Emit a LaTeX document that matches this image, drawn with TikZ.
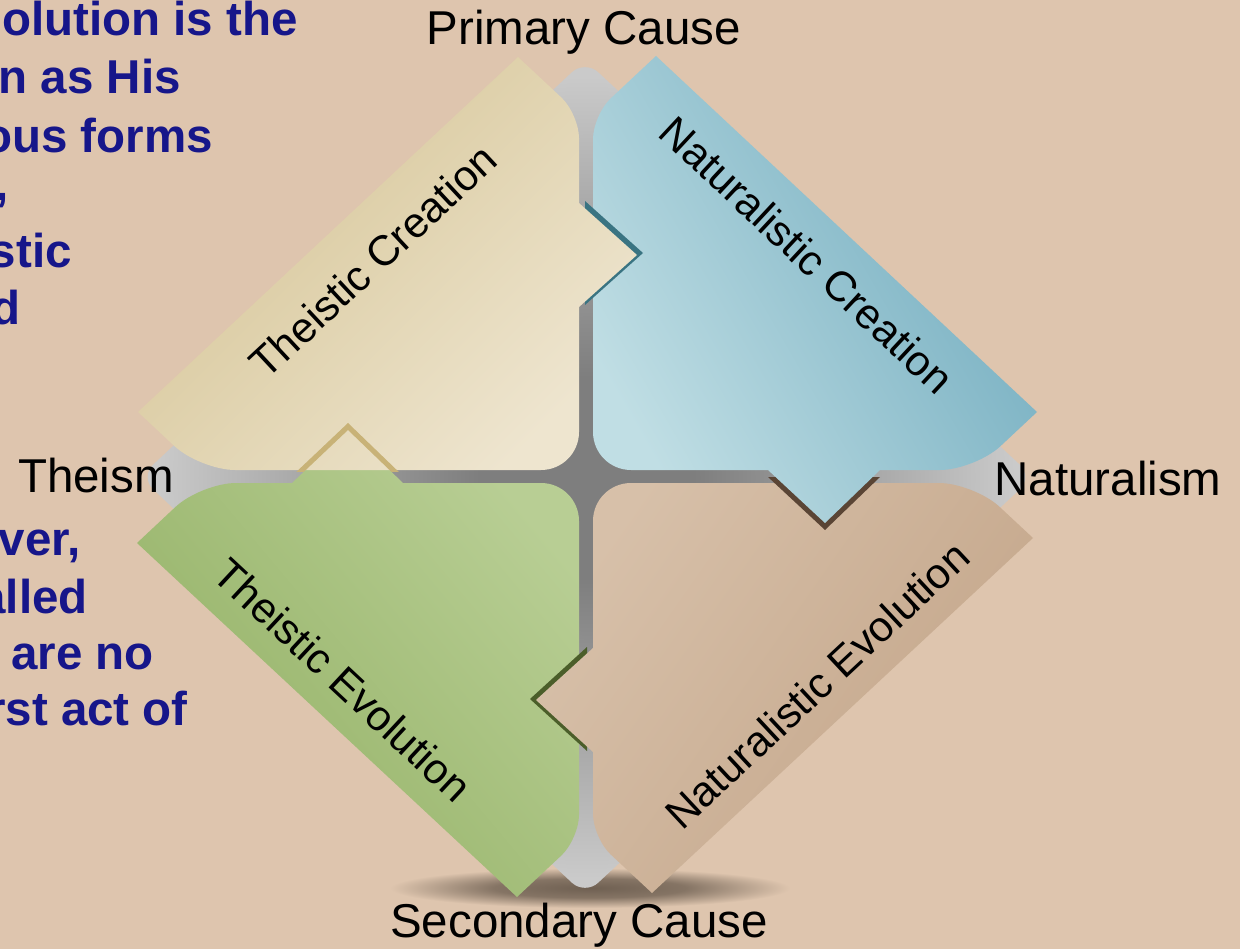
\documentclass[tikz,border=0pt]{standalone}
\usepackage{fontspec}
\setmainfont{Liberation Sans}
\usetikzlibrary{calc}
\definecolor{bgc}{HTML}{DEC5AE}
\definecolor{gdA}{HTML}{7E7E7E}
\definecolor{gdB}{HTML}{CACACA}
\definecolor{shc}{HTML}{6F6052}
\definecolor{tanA}{HTML}{D5C495}
\definecolor{tanB}{HTML}{EEE5CF}
\definecolor{bluA}{HTML}{C0DEE4}
\definecolor{bluB}{HTML}{70ABBE}
\definecolor{grnA}{HTML}{93B165}
\definecolor{grnB}{HTML}{B8CE94}
\definecolor{brnA}{HTML}{D7C0A9}
\definecolor{brnB}{HTML}{C3A589}
\definecolor{tealS}{HTML}{3A7482}
\definecolor{brnS}{HTML}{5A4535}
\definecolor{grnS}{HTML}{4B5E2A}
\definecolor{tanS}{HTML}{C8B277}
\definecolor{txtblue}{HTML}{16168A}
\pgfdeclareradialshading{graydiam}{\pgfpoint{0bp}{0bp}}{color(0bp)=(gdA); color(6bp)=(gdA); color(24bp)=(gdB); color(50bp)=(gdB)}
\pgfdeclareradialshading{floorshadow}{\pgfpoint{0bp}{0bp}}{color(0bp)=(shc); color(12bp)=(shc!80!bgc); color(25bp)=(bgc); color(50bp)=(bgc)}
\tikzset{
  rc/.style args={#1/#2/#3/#4/#5}{insert path={-- ($(#2)!#4!(#1)$) .. controls ($(#2)!#5!(#1)$) and ($(#2)!#5!(#3)$) .. ($(#2)!#4!(#3)$)}},
  tanfill/.style={top color=tanA, bottom color=tanB, shading angle=45},
  blufill/.style={top color=bluA, bottom color=bluB, shading angle=120},
  grnfill/.style={top color=grnA, bottom color=grnB, shading angle=130},
  brnfill/.style={top color=brnA, bottom color=brnB, shading angle=55},
  lbl/.style={font=\fontsize{47.5}{57}\selectfont, inner sep=0pt, text=black},
  qlbl/.style={font=\fontsize{42.5}{50}\selectfont, inner sep=0pt, text=black},
  btxt/.style={font=\fontsize{47.5}{57}\selectfont\bfseries, inner sep=0pt, text=txtblue, anchor=base east}
}
\begin{document}
\begin{tikzpicture}[x=1pt,y=-1pt]
\useasboundingbox (0,0) rectangle (1240,949);
\fill[bgc] (0,0) rectangle (1240,949);

% floor shadow
\shade[shading=floorshadow] (590,888) ellipse [x radius=200, y radius=20];

% gray diamond behind
\shade[shading=graydiam, rounded corners=18pt] (585,60) -- (1033,477) -- (585,895) -- (140,477) -- cycle;

% coordinates
\coordinate (T1) at (518,57);  \coordinate (T2) at (579,114); \coordinate (T3) at (579,203);
\coordinate (T4) at (637,255); \coordinate (T5) at (579,307); \coordinate (T6) at (579,470);
\coordinate (T7) at (200,470); \coordinate (T8) at (138,412);

\coordinate (B1) at (656,56);  \coordinate (B2) at (1037,412); \coordinate (B3) at (975,470);
\coordinate (B4) at (880,470); \coordinate (B5) at (825,523);  \coordinate (B6) at (768,470);
\coordinate (B7) at (593,470); \coordinate (B8) at (593,115);

\coordinate (G1) at (137,543); \coordinate (G2) at (201,483); \coordinate (G3) at (292,483);
\coordinate (G4) at (348,430); \coordinate (G5) at (403,483); \coordinate (G6) at (579,483);
\coordinate (G7) at (579,839); \coordinate (G8) at (517,897);

\coordinate (R1) at (1033,538); \coordinate (R2) at (652,893); \coordinate (R3) at (593,838);
\coordinate (R4) at (593,752);  \coordinate (R5) at (536,700); \coordinate (R6) at (593,648);
\coordinate (R7) at (593,483);  \coordinate (R8) at (974,483);

% green piece (bottom-left)
\shade[grnfill] (G1) [rc=G1/G2/G3/35pt/16pt] -- (G3) -- (G4) -- (G5) [rc=G5/G6/G7/38pt/17pt] [rc=G6/G7/G8/24pt/11pt] -- (G8) -- cycle;

% brown piece (bottom-right) with its shadow on green
\fill[grnS] ($(R4)+(-6,-1)$) -- ($(R5)+(-6,-1)$) -- ($(R6)+(-6,-1)$) -- cycle;
\shade[brnfill] (R1) -- (R2) [rc=R2/R3/R4/24pt/11pt] -- (R4) -- (R5) -- (R6) [rc=R6/R7/R8/38pt/17pt] [rc=R7/R8/R1/35pt/16pt] -- cycle;

% blue piece (top-right) with its shadow on brown
\fill[brnS] ($(B4)+(0,7)$) -- ($(B5)+(0,7)$) -- ($(B6)+(0,7)$) -- cycle;
\shade[blufill] (B1) -- (B2) [rc=B2/B3/B4/35pt/16pt] -- (B4) -- (B5) -- (B6) [rc=B6/B7/B8/38pt/17pt] [rc=B7/B8/B1/24pt/11pt] -- cycle;

% tan piece (top-left) with its shadow on blue
\fill[tealS] ($(T3)+(6,-2)$) -- ($(T4)+(6,-2)$) -- ($(T5)+(6,-2)$) -- cycle;
\shade[tanfill] (T1) [rc=T1/T2/T3/24pt/11pt] -- (T3) -- (T4) -- (T5) [rc=T5/T6/T7/38pt/17pt] [rc=T6/T7/T8/35pt/16pt] -- (T8) -- cycle;

% shadow of the green notch seen on the tan piece
\begin{scope}
  \clip (270,400) rectangle (430,471);
  \fill[tanS, even odd rule] ($(G3)+(0,-7)$) -- ($(G4)+(0,-7)$) -- ($(G5)+(0,-7)$) -- cycle (G3) -- (G4) -- (G5) -- cycle;
\end{scope}

% quadrant labels
\node[qlbl, rotate=43]  (tc) at (373,261) {Theistic Creation};
\node[qlbl, rotate=-43] (nc) at (807,255) {Naturalistic Creation};
\node[qlbl, rotate=-43] (te) at (343,680) {Theistic Evolution};
\node[qlbl, rotate=43]  (ne) at (817,685) {Naturalistic Evolution};

% axis labels
\node[lbl, anchor=base] (pc) at (584,45)  {Primary Cause};
\node[lbl, anchor=base] (sc) at (579,937) {Secondary Cause};
\node[lbl, anchor=base] (th) at (96,492)  {Theism};
\node[lbl, anchor=base] (na) at (1108,495) {Naturalism};

% partly hidden blue text
\node[btxt] (b1)  at (298,36)  {olution is the};
\node[btxt] (b2)  at (181,94)  {n as His};
\node[btxt] (b3)  at (213,153) {ous forms};
\node[btxt] (b4)  at (9,201)   {,};
\node[btxt] (b5)  at (72,268)  {stic};
\node[btxt] (b6)  at (21,325)  {d};
\node[btxt] (b7)  at (81,555)  {ver,};
\node[btxt] (b8)  at (88,613)  {alled};
\node[btxt] (b9)  at (154,669) {are no};
\node[btxt] (b10) at (188,725) {rst act of};
\end{tikzpicture}
\end{document}
